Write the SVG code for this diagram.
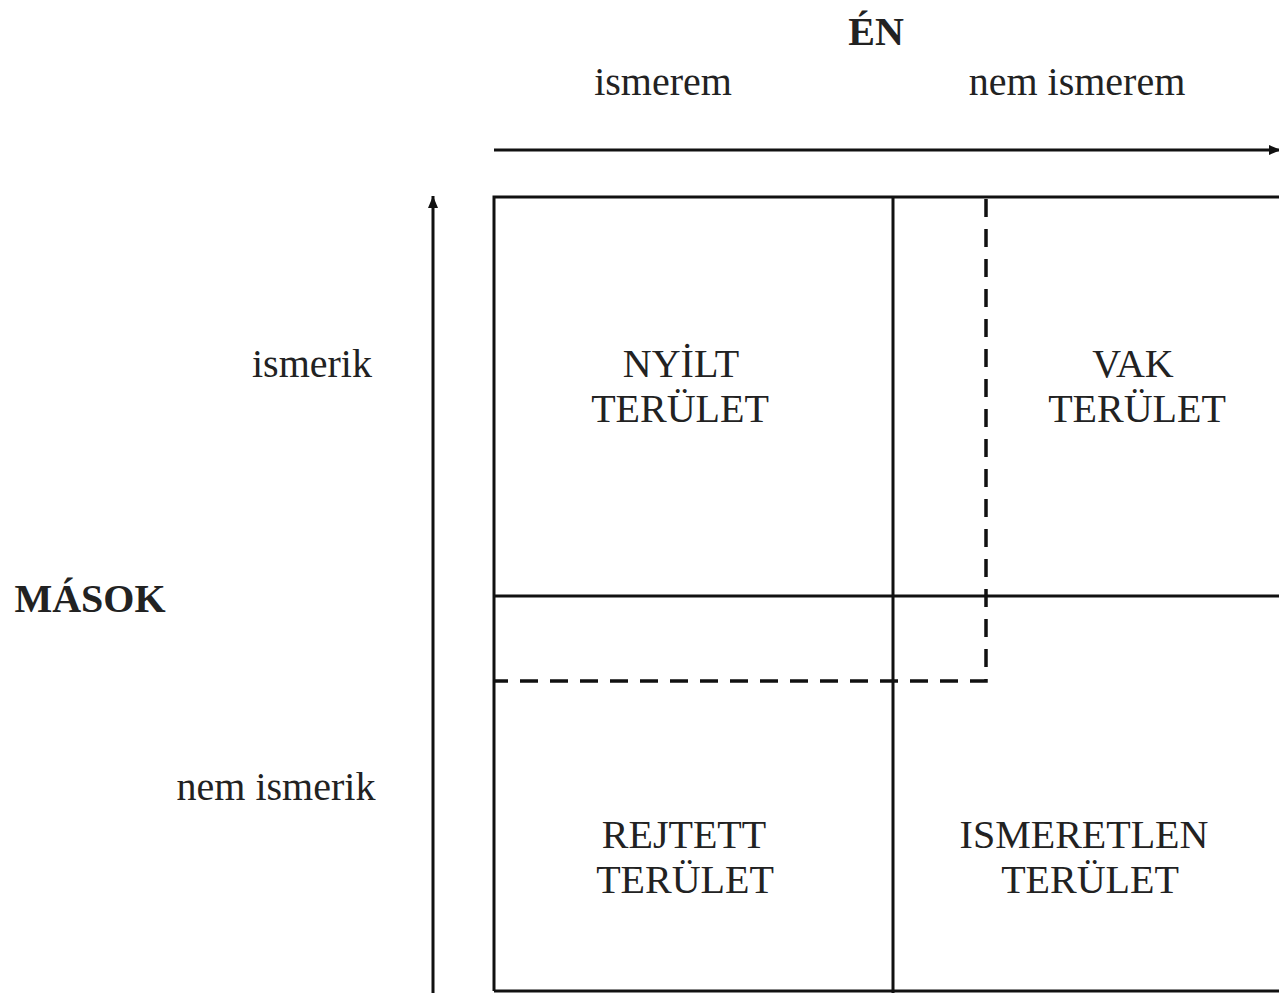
<svg xmlns="http://www.w3.org/2000/svg" width="1279" height="993" viewBox="0 0 1279 993">
<defs>
<marker id="ah" viewBox="0 0 12 10" refX="12" refY="5" markerWidth="12" markerHeight="11" markerUnits="userSpaceOnUse" orient="auto">
<path d="M0,0 L12,5 L0,10 Z" fill="#111"/>
</marker>
</defs>
<style>
.t{font-family:"Liberation Serif","Times New Roman",serif;font-size:40px;fill:#222;text-anchor:middle}
.b{font-weight:bold}
.ln{stroke:#111;stroke-width:3;fill:none}
.ds{stroke:#111;stroke-width:3.5;fill:none;stroke-dasharray:18 12}
</style>
<rect width="1279" height="993" fill="#fff"/>
<g id="connectors">
<line class="ln" x1="494" y1="150" x2="1281" y2="150" marker-end="url(#ah)"/>
<line class="ln" x1="433" y1="995" x2="433" y2="196" marker-end="url(#ah)"/>
</g>
<g id="grid">
<path class="ln" d="M494,991 L494,197 L1285,197"/>
<line class="ln" x1="494" y1="991" x2="1285" y2="991"/>
<line class="ln" x1="893" y1="197" x2="893" y2="993"/>
<line class="ln" x1="494" y1="596" x2="1285" y2="596"/>
<path class="ds" d="M986,199 L986,681 L494,681"/>
</g>
<g id="header">
<text class="t b" x="876" y="45">ÉN</text>
<text class="t" x="663" y="95">ismerem</text>
<text class="t" x="1077" y="95">nem ismerem</text>
</g>
<g id="side">
<text class="t b" x="90" y="612">MÁSOK</text>
<text class="t" x="312" y="377">ismerik</text>
<text class="t" x="276" y="800">nem ismerik</text>
</g>
<g id="nyilt">
<text class="t" x="681" y="377">NYİLT</text>
<text class="t" x="680" y="422">TERÜLET</text>
</g>
<g id="vak">
<text class="t" x="1133" y="377">VAK</text>
<text class="t" x="1137" y="422">TERÜLET</text>
</g>
<g id="rejtett">
<text class="t" x="684" y="848">REJTETT</text>
<text class="t" x="685" y="893">TERÜLET</text>
</g>
<g id="ismeretlen">
<text class="t" x="1084" y="848">ISMERETLEN</text>
<text class="t" x="1090" y="893">TERÜLET</text>
</g>
</svg>
